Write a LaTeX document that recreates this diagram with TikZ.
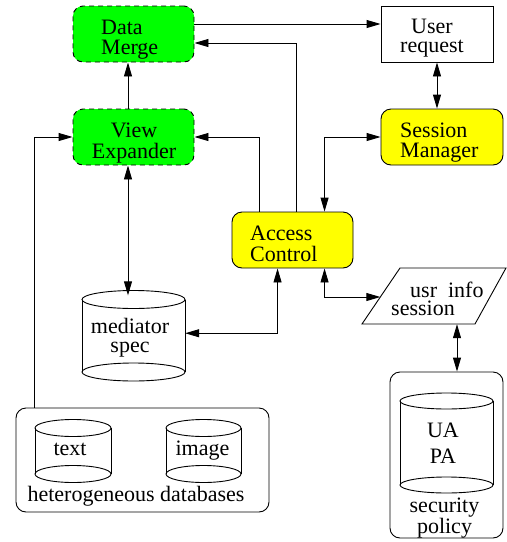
\documentclass[tikz,border=0pt]{standalone}
\usepackage{fontspec}
\setmainfont{Liberation Serif}
\usetikzlibrary{arrows.meta}

\definecolor{procgreen}{RGB}{0,255,0}
\definecolor{procyellow}{RGB}{255,255,0}

% stacked lines whose baseline is the first line
\newcommand\stacklines[2][l]{\begin{tabular}[t]{@{}#1@{}}#2\end{tabular}}

% database drum: name, centre x, top-rim y, bottom-rim y, x radius, y radius
\newcommand\drum[6]{%
  \node[inner sep=0pt, minimum width={2*#5*1pt}, minimum height={(#4-#3+2*#6)*1pt}]
    (#1) at (#2,{(#3+#4)/2}) {};
  \draw[wire] ({#2-#5},#3) -- ({#2-#5},#4) ({#2+#5},#3) -- ({#2+#5},#4);
  \draw[wire] (#2,#3) ellipse [x radius=#5, y radius=#6];
  \draw[wire] (#2,#4) ellipse [x radius=#5, y radius=#6];
}

\begin{document}
\begin{tikzpicture}[x=1pt, y=-1pt,
  every node/.style={font=\fontsize{22}{19.5}\selectfont, inner sep=0pt},
  wire/.style={line width=0.9pt},
  box/.style={draw, wire, minimum height=56pt},
  rbox/.style={box, rounded corners=10pt},
  expander/.style={rbox, fill=procgreen, dash pattern=on 5pt off 4pt},
  control/.style={rbox, fill=procyellow},
  group/.style={draw, wire, rounded corners=10pt},
  tip/.style={},
  arr/.style={wire, -{Triangle[length=14pt,width=8pt]}},
  both/.style={wire, {Triangle[length=14pt,width=8pt]}-{Triangle[length=14pt,width=8pt]}}]
\useasboundingbox (0,0) rectangle (507,542);
\fill[white] (0,0) rectangle (507,542);

% processing boxes
\node[expander, minimum width=121pt] (dm) at (133.5,34) {};
\node[expander, minimum width=121pt] (ve) at (133.5,137) {};
\node[box, minimum width=112pt] (ur) at (437,34) {};
\node[control, minimum width=122pt] (sm) at (442,137) {};
\node[control, minimum width=121pt] (ac) at (292.5,240) {};

\node[anchor=base west] at (101,34) {\stacklines{Data\\Merge}};
\node[anchor=base] at (134,137) {\stacklines[c]{View\\Expander}};
\node[anchor=base] at (432,33) {\stacklines[c]{User\\request}};
\node[anchor=base west] at (400,137) {\stacklines{Session\\Manager}};
\node[anchor=base west] at (250,240) {\stacklines{Access\\Control}};

% session information (parallelogram)
\node[minimum width=111pt, minimum height=54pt] (us) at (436,297) {};
\draw[wire] (400,268) -- (506,268) -- (475,324) -- (362,324) -- cycle;
\node[anchor=base west] at (410,297) {usr\ \ info};
\node[anchor=base west] at (391,315.5) {session};

% mediator specification
\drum{ms}{133.5}{299.5}{372}{51.5}{9}
\node[anchor=base] at (130,333) {\stacklines[c]{mediator\\spec}};

% heterogeneous databases
\node[group, minimum width=253pt, minimum height=104pt] (hd) at (142.5,460) {};
\drum{dbt}{73}{428}{474}{38}{8.5}
\drum{dbi}{203.5}{428}{474}{37.5}{8.5}
\node[anchor=base] at (70,455) {text};
\node[anchor=base] at (202.5,455) {image};
\node[anchor=base] at (136,501) {heterogeneous databases};

% security policy
\node[group, minimum width=113pt, minimum height=166pt] (sp) at (446.5,455) {};
\drum{pol}{446.5}{401}{485}{46.5}{8}
\node[anchor=base] at (443,437) {\stacklines[c]{UA\\[6.5pt]PA}};
\node[anchor=base] at (444.5,512) {\stacklines[c]{security\\policy}};

% connectors
\draw[arr] ([xshift=-5.5pt]ve.north) -- ([xshift=-5.5pt]dm.south);
\draw[arr] ([xshift=18.5pt]hd.north west) |- (ve.west);
\draw[arr] ([xshift=28pt]ac.north west) |- (ve.east);
\draw[arr] ([xshift=65pt]ac.north west) |- ([yshift=-9pt]dm.east);
\draw[arr] ([yshift=10pt]dm.east) -- ([yshift=10pt]ur.west);
\draw[both] (ur.south) -- (ur.south |- sm.north);
\draw[both] ([xshift=93pt]ac.north west) |- (sm.west);
\draw[both] ([yshift=2.5pt]ms.east) -| ([xshift=46pt]ac.south west);
\draw[both] ([xshift=-5.5pt]ve.south) -- ([xshift=-5.5pt,yshift=-5pt]ms.north);
\draw[both] ([xshift=93pt]ac.south west) |- (us.west);
\draw[both] ([xshift=21pt]us.south) -- ([xshift=10.5pt]sp.north);
\end{tikzpicture}
\end{document}
